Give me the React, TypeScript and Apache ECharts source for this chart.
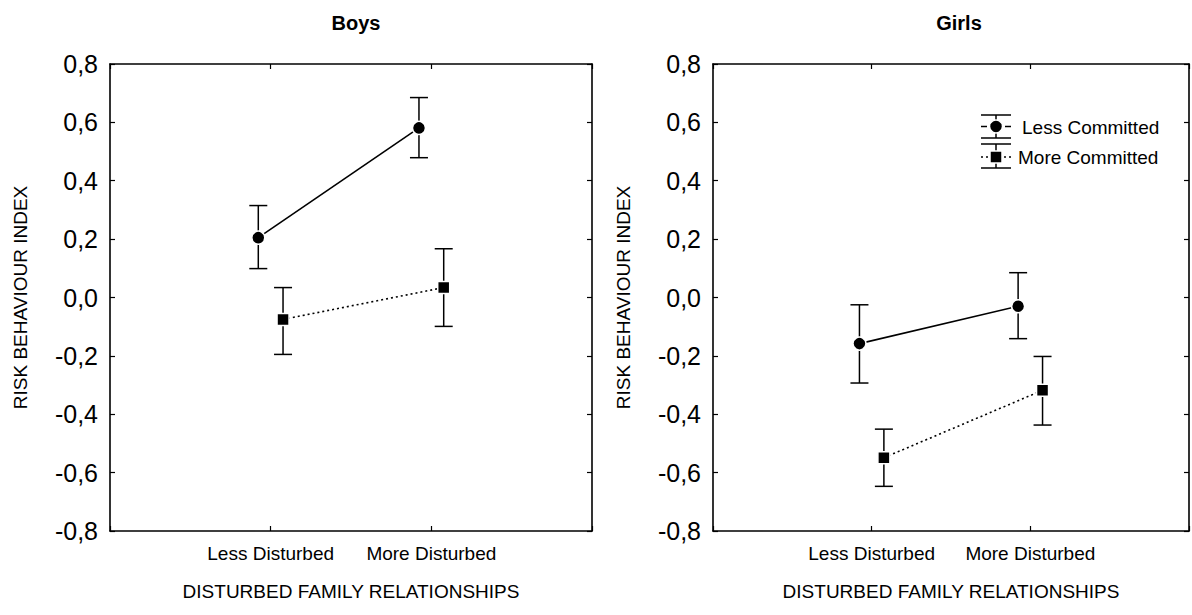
import React, { useEffect, useRef } from "react";
import * as echarts from "echarts";

const FONT = "'Liberation Sans', Arial, Helvetica, sans-serif";

const categories = ["Less Disturbed", "More Disturbed"];
const panelTitles = ["Boys", "Girls"];
const seriesNames = ["Less Committed", "More Committed"];
const yTicks = [-0.8, -0.6, -0.4, -0.2, 0.0, 0.2, 0.4, 0.6, 0.8];

// Boys
const boysLessMean = [0.205, 0.581];
const boysLessLow = [0.099, 0.479];
const boysLessHigh = [0.315, 0.685];
const boysMoreMean = [-0.075, 0.034];
const boysMoreLow = [-0.195, -0.099];
const boysMoreHigh = [0.034, 0.167];

// Girls
const girlsLessMean = [-0.158, -0.03];
const girlsLessLow = [-0.293, -0.141];
const girlsLessHigh = [-0.025, 0.085];
const girlsMoreMean = [-0.549, -0.318];
const girlsMoreLow = [-0.647, -0.437];
const girlsMoreHigh = [-0.451, -0.202];

const DODGE = 0.077;
const BLACK = "#000";

const axisLine = { show: true, onZero: false, lineStyle: { color: BLACK, width: 1.6 } };
const axisTick = { show: true, inside: true, length: 5, lineStyle: { color: BLACK, width: 1.2 } };

const fmtY = (v: number) => v.toFixed(1).replace(".", ",");

function errorRender(params: any, api: any) {
  const x = api.value(0);
  const lo = api.coord([x, api.value(1)]);
  const hi = api.coord([x, api.value(2)]);
  const hw = 9;
  const st = { stroke: BLACK, lineWidth: 1.5 };
  return {
    type: "group",
    children: [
      { type: "line", shape: { x1: hi[0], y1: hi[1], x2: lo[0], y2: lo[1] }, style: st },
      { type: "line", shape: { x1: hi[0] - hw, y1: hi[1], x2: hi[0] + hw, y2: hi[1] }, style: st },
      { type: "line", shape: { x1: lo[0] - hw, y1: lo[1], x2: lo[0] + hw, y2: lo[1] }, style: st },
    ],
  };
}

export default function App() {
  const ref = useRef<HTMLDivElement>(null);
  useEffect(() => {
    if (!ref.current) return;
    const chart = echarts.init(ref.current, undefined, { renderer: "svg" });

    const panels = [
      {
        left: 110,
        lessMean: boysLessMean, lessLow: boysLessLow, lessHigh: boysLessHigh,
        moreMean: boysMoreMean, moreLow: boysMoreLow, moreHigh: boysMoreHigh,
      },
      {
        left: 713,
        lessMean: girlsLessMean, lessLow: girlsLessLow, lessHigh: girlsLessHigh,
        moreMean: girlsMoreMean, moreLow: girlsMoreLow, moreHigh: girlsMoreHigh,
      },
    ];
    const W = 482;
    const H = 467;
    const TOP = 64;

    const grid: any[] = [];
    const xAxis: any[] = [];
    const yAxis: any[] = [];
    const series: any[] = [];
    const title: any[] = [];

    panels.forEach((p, g) => {
      grid.push({ left: p.left, top: TOP, width: W, height: H, containLabel: false });
      title.push({
        text: panelTitles[g],
        left: p.left + W / 2,
        top: 8,
        textAlign: "center",
        textStyle: { fontFamily: FONT, fontSize: 20, fontWeight: "bold", color: BLACK },
      });
      xAxis.push({
        gridIndex: g,
        type: "value",
        min: 0,
        max: 3,
        interval: 1,
        position: "bottom",
        axisLine,
        axisTick,
        splitLine: { show: false },
        axisLabel: {
          color: BLACK,
          fontFamily: FONT,
          fontSize: 19,
          margin: 13,
          formatter: (v: number) => (v >= 1 && v <= categories.length ? categories[v - 1] : ""),
        },
        name: "DISTURBED FAMILY RELATIONSHIPS",
        nameLocation: "middle",
        nameGap: 51,
        nameTextStyle: { color: BLACK, fontFamily: FONT, fontSize: 19 },
      });
      xAxis.push({
        gridIndex: g,
        type: "value",
        min: 0,
        max: 3,
        interval: 1,
        position: "top",
        axisLine,
        axisTick,
        splitLine: { show: false },
        axisLabel: { show: false },
      });
      yAxis.push({
        gridIndex: g,
        type: "value",
        min: yTicks[0],
        max: yTicks[yTicks.length - 1],
        interval: 0.2,
        position: "left",
        axisLine,
        axisTick,
        splitLine: { show: false },
        axisLabel: {
          color: BLACK,
          fontFamily: FONT,
          fontSize: 25,
          margin: 12,
          formatter: fmtY,
        },
        name: "RISK BEHAVIOUR INDEX",
        nameLocation: "middle",
        nameGap: 80,
        nameTextStyle: { color: BLACK, fontFamily: FONT, fontSize: 19 },
      });
      yAxis.push({
        gridIndex: g,
        type: "value",
        min: yTicks[0],
        max: yTicks[yTicks.length - 1],
        interval: 0.2,
        position: "right",
        axisLine,
        axisTick,
        splitLine: { show: false },
        axisLabel: { show: false },
      });

      const xi = g * 2;
      const yi = g * 2;
      const groups = [
        { name: seriesNames[0], mean: p.lessMean, low: p.lessLow, high: p.lessHigh, off: -DODGE, symbol: "circle", lineType: "solid" },
        { name: seriesNames[1], mean: p.moreMean, low: p.moreLow, high: p.moreHigh, off: DODGE, symbol: "rect", lineType: [2, 3] },
      ];
      groups.forEach((s) => {
        series.push({
          type: "custom",
          name: s.name + " error",
          xAxisIndex: xi,
          yAxisIndex: yi,
          z: 1,
          renderItem: errorRender,
          encode: { x: 0, y: [1, 2] },
          data: s.mean.map((_, i) => [i + 1 + s.off, s.low[i], s.high[i]]),
          silent: true,
        });
        series.push({
          type: "line",
          name: s.name,
          xAxisIndex: xi,
          yAxisIndex: yi,
          z: 3,
          symbol: s.symbol,
          symbolSize: s.symbol === "circle" ? 13 : 12,
          lineStyle: { color: BLACK, width: 1.6, type: s.lineType },
          itemStyle: { color: BLACK, borderColor: "#fff", borderWidth: 1.5 },
          data: s.mean.map((m, i) => [i + 1 + s.off, m]),
        });
      });
    });

    // Legend (drawn as graphic on the Girls panel)
    const ls = { stroke: BLACK, lineWidth: 1.5 };
    const lx = 996;
    const graphic: any[] = [
      { type: "line", shape: { x1: lx - 15, y1: 115, x2: lx + 15, y2: 115 }, style: ls },
      { type: "line", shape: { x1: lx - 15, y1: 138, x2: lx + 15, y2: 138 }, style: ls },
      { type: "line", shape: { x1: lx, y1: 115, x2: lx, y2: 138 }, style: ls },
      { type: "line", shape: { x1: lx - 15, y1: 126.5, x2: lx - 9, y2: 126.5 }, style: ls },
      { type: "line", shape: { x1: lx + 9, y1: 126.5, x2: lx + 15, y2: 126.5 }, style: ls },
      { type: "circle", shape: { cx: lx, cy: 126.5, r: 6.5 }, style: { fill: BLACK, stroke: "#fff", lineWidth: 1.5 } },
      { type: "text", x: 1022, y: 127, style: { text: seriesNames[0], fill: BLACK, font: `19px ${FONT}`, verticalAlign: "middle", align: "left" } },

      { type: "line", shape: { x1: lx - 15, y1: 144, x2: lx + 15, y2: 144 }, style: ls },
      { type: "line", shape: { x1: lx - 15, y1: 168, x2: lx + 15, y2: 168 }, style: ls },
      { type: "line", shape: { x1: lx, y1: 144, x2: lx, y2: 168 }, style: ls },
      { type: "line", shape: { x1: lx - 15, y1: 157, x2: lx - 8, y2: 157 }, style: { ...ls, lineDash: [2, 3] } },
      { type: "line", shape: { x1: lx + 8, y1: 157, x2: lx + 15, y2: 157 }, style: { ...ls, lineDash: [2, 3] } },
      { type: "rect", shape: { x: lx - 6, y: 151, width: 12, height: 12 }, style: { fill: BLACK, stroke: "#fff", lineWidth: 1.5 } },
      { type: "text", x: 1018, y: 157, style: { text: seriesNames[1], fill: BLACK, font: `19px ${FONT}`, verticalAlign: "middle", align: "left" } },
    ];

    chart.setOption({
      animation: false,
      backgroundColor: "#fff",
      title,
      grid,
      xAxis,
      yAxis,
      series,
      graphic,
    });
    return () => chart.dispose();
  }, []);
  return (
    <div
      ref={ref}
      style={{ position: "absolute", left: 0, top: 0, width: 1192, height: 615 }}
    />
  );
}
